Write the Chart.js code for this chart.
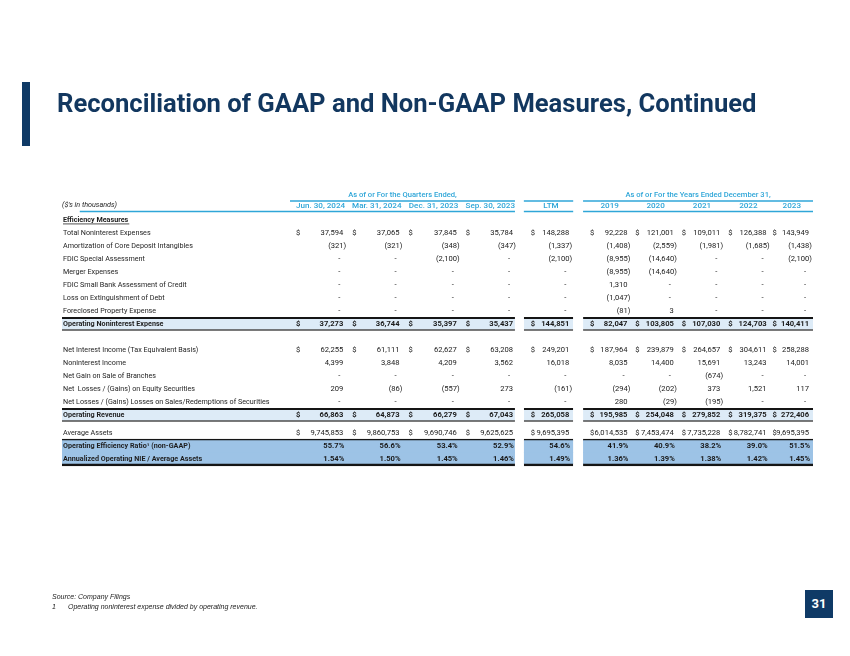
<!DOCTYPE html>
<html><head><meta charset="utf-8">
<script src="https://cdn.jsdelivr.net/npm/chart.js@4/dist/chart.umd.min.js"></script>
<style>
html,body{margin:0;padding:0;background:#fff;}
#page{position:relative;width:850px;height:656px;overflow:hidden;background:#fff;}
#c{position:absolute;left:0;top:0;}
#bar{position:absolute;left:22px;top:82px;width:8px;height:64px;background:#0f3a66;}
#title{position:absolute;left:57px;top:88px;font:700 25.6px Roboto,sans-serif;color:#12375f;white-space:nowrap;}
#src{position:absolute;left:52px;top:592px;font:italic 7px "Liberation Sans",Arial,sans-serif;color:#222;line-height:10px;}
#src span{display:inline-block;width:16px;}
#pg{position:absolute;left:805px;top:590px;width:28px;height:28px;background:#0f3a66;color:#fff;font:700 13px Roboto,sans-serif;text-align:center;line-height:28px;}
</style></head>
<body><div id="page">
<canvas id="c" width="850" height="656"></canvas>
<div id="bar"></div>
<div id="title">Reconciliation of GAAP and Non-GAAP Measures, Continued</div>
<div id="src">Source: Company Filings<br><span>1</span>Operating noninterest expense divided by operating revenue.</div>
<div id="pg">31</div>
</div>
<script>
// ---------- DATA ----------
const groupHeaders = ['As of or For the Quarters Ended,', 'As of or For the Years Ended December 31,'];
const unitsLabel = "($'s in thousands)";
const columnHeaders = ['Jun. 30, 2024','Mar. 31, 2024','Dec. 31, 2023','Sep. 30, 2023','LTM','2019','2020','2021','2022','2023'];
const rowLabels = [
  'Efficiency Measures',
  'Total Noninterest Expenses',
  'Amortization of Core Deposit Intangibles',
  'FDIC Special Assessment',
  'Merger Expenses',
  'FDIC Small Bank Assessment of Credit',
  'Loss on Extinguishment of Debt',
  'Foreclosed Property Expense',
  'Operating Noninterest Expense',
  '',
  'Net Interest Income (Tax Equivalent Basis)',
  'Noninterest Income',
  'Net Gain on Sale of Branches',
  'Net  Losses / (Gains) on Equity Securities',
  'Net Losses / (Gains) Losses on Sales/Redemptions of Securities',
  'Operating Revenue',
  '',
  'Average Assets',
  'Operating Efficiency Ratio\u00b9 (non-GAAP)',
  'Annualized Operating NIE / Average Assets'
];
const totalNonintExp = [37594, 37065, 37845, 35784, 148288, 92228, 121001, 109011, 126388, 143949];
const amortCDI       = [-321, -321, -348, -347, -1337, -1408, -2559, -1981, -1685, -1438];
const fdicSpecial    = [null, null, -2100, null, -2100, -8955, -14640, null, null, -2100];
const mergerExp      = [null, null, null, null, null, -8955, -14640, null, null, null];
const fdicSmallBank  = [null, null, null, null, null, 1310, null, null, null, null];
const lossExtDebt    = [null, null, null, null, null, -1047, null, null, null, null];
const foreclosedExp  = [null, null, null, null, null, -81, 3, null, null, null];
const opNonintExp    = [37273, 36744, 35397, 35437, 144851, 82047, 103805, 107030, 124703, 140411];
const netIntIncome   = [62255, 61111, 62627, 63208, 249201, 187964, 239879, 264657, 304611, 258288];
const nonintIncome   = [4399, 3848, 4209, 3562, 16018, 8035, 14400, 15691, 13243, 14001];
const gainBranches   = [null, null, null, null, null, null, null, -674, null, null];
const lossEquity     = [209, -86, -557, 273, -161, -294, -202, 373, 1521, 117];
const lossSales      = [null, null, null, null, null, 280, -29, -195, null, null];
const opRevenue      = [66863, 64873, 66279, 67043, 265058, 195985, 254048, 279852, 319375, 272406];
const avgAssets      = [9745853, 9860753, 9690746, 9625625, 9695395, 6014535, 7453474, 7735228, 8782741, 9695395];
const effRatio       = [55.7, 56.6, 53.4, 52.9, 54.6, 41.9, 40.9, 38.2, 39.0, 51.5];
const nieToAssets    = [1.54, 1.50, 1.45, 1.46, 1.49, 1.36, 1.39, 1.38, 1.42, 1.45];
const rowValues = [null, totalNonintExp, amortCDI, fdicSpecial, mergerExp, fdicSmallBank, lossExtDebt, foreclosedExp,
  opNonintExp, null, netIntIncome, nonintIncome, gainBranches, lossEquity, lossSales, opRevenue, null, avgAssets, effRatio, nieToAssets];

// ---------- STYLE / LAYOUT ----------
const boldRows = new Set([0, 8, 15, 18, 19]);
const dollarRows = new Set([1, 8, 10, 15, 17]);
const pctDecimals = {18: 1, 19: 2};
const lightRows = [8, 15];
const ratioRows = [18, 19];
const spacerHeights = {9: 1, 16: 0.4};
const L = {
  areaLeft: 52, areaRight: 813, areaTop: 206, areaBottom: 473,
  cols: [[289,337],[346,394],[403,452],[461,509],[527,566],[587,625],[633,672],[680,719],[727,766],[772,809]],
  blocks: [[52,511],[520,570],[580,813]],
  topLines: [[283,511],[520,570],[580,813]],
  bottomLines: [[70,511],[520,570],[580,813]],
  groupSpans: [[283,511],[580,813]]
};
const CYAN = '#2fa6d8', LIGHT = '#ddebf7', MID = '#9dc3e6', DARK = '#151515';
const FONT = 'Roboto, sans-serif';
const FS = 7.6;      // values
const FL = 7.2;      // row labels
const FH = 8.1;      // column headers

// row positions on y scale (row units)
const rowPos = []; let p = 0;
rowLabels.forEach((l, i) => {
  if (i in spacerHeights) { rowPos.push(null); p += spacerHeights[i]; }
  else { rowPos.push(p); p += 1; }
});
const yMin = -0.5, yMax = p - 0.5;
const rowPx = (L.areaBottom - L.areaTop) / (yMax - yMin);

function fmt(v, i) {
  if (v === null) return '-';
  if (i in pctDecimals) return v.toFixed(pctDecimals[i]) + '%';
  const s = Math.abs(v).toLocaleString('en-US');
  return v < 0 ? '(' + s + ')' : s;
}

function bars(rows) {
  const d = [];
  rows.forEach(r => L.blocks.forEach(b => d.push({y: rowPos[r], x: [b[0], b[1]], r})));
  return d;
}

const tablePlugin = {
  id: 'table',
  afterDraw(chart) {
    const ctx = chart.ctx, xs = chart.scales.x, ys = chart.scales.y;
    ctx.save();
    // header lines
    ctx.strokeStyle = CYAN; ctx.lineWidth = 1.5;
    const yTopLine = ys.getPixelForValue(-1.45), yBotLine = ys.getPixelForValue(-0.65);
    L.topLines.forEach(s => { ctx.beginPath(); ctx.moveTo(xs.getPixelForValue(s[0]), yTopLine); ctx.lineTo(xs.getPixelForValue(s[1]), yTopLine); ctx.stroke(); });
    L.bottomLines.forEach(s => { ctx.beginPath(); ctx.moveTo(xs.getPixelForValue(s[0]), yBotLine); ctx.lineTo(xs.getPixelForValue(s[1]), yBotLine); ctx.stroke(); });
    // group headers
    ctx.fillStyle = CYAN; ctx.textBaseline = 'middle'; ctx.textAlign = 'center';
    ctx.font = '500 ' + FS + 'px ' + FONT;
    const yGroup = ys.getPixelForValue(-1.9);
    groupHeaders.forEach((g, k) => {
      const s = L.groupSpans[k];
      ctx.fillText(g, xs.getPixelForValue((s[0] + s[1]) / 2), yGroup);
    });
    // column headers
    ctx.font = '500 ' + FH + 'px ' + FONT;
    const yHead = ys.getPixelForValue(-1.1);
    columnHeaders.forEach((h, c) => {
      const col = L.cols[c];
      ctx.fillText(h, xs.getPixelForValue((col[0] + col[1]) / 2 + 1), yHead);
    });
    // units label
    ctx.fillStyle = '#222'; ctx.textAlign = 'left';
    ctx.font = 'italic ' + FL + 'px ' + FONT;
    ctx.fillText(unitsLabel, chart.chartArea.left, yHead);
    // underline for section header
    ctx.font = '700 ' + FL + 'px ' + FONT;
    const w = ctx.measureText(rowLabels[0]).width;
    const y0 = ys.getPixelForValue(rowPos[0]) + 4;
    ctx.strokeStyle = '#222'; ctx.lineWidth = 0.8;
    ctx.beginPath(); ctx.moveTo(chart.chartArea.left + 1, y0); ctx.lineTo(chart.chartArea.left + 2 + w, y0); ctx.stroke();
    // cell values
    rowValues.forEach((vals, i) => {
      if (!vals) return;
      const y = ys.getPixelForValue(rowPos[i]);
      ctx.font = (boldRows.has(i) ? '700 ' : '400 ') + FS + 'px ' + FONT;
      ctx.fillStyle = '#1a1a1a';
      vals.forEach((v, c) => {
        const col = L.cols[c];
        if (dollarRows.has(i)) { ctx.textAlign = 'left'; ctx.fillText('$', xs.getPixelForValue(col[0]), y); }
        ctx.textAlign = 'right';
        let xr = col[1];
        if (v === null) xr -= 3; else if (v < 0) xr += 3; else if (i in pctDecimals) xr += 1;
        ctx.fillText(fmt(v, i), xs.getPixelForValue(xr), y);
      });
    });
    ctx.restore();
  }
};

function draw() {
  new Chart(document.getElementById('c'), {
    type: 'bar',
    data: {
      datasets: [
        { data: bars(lightRows), backgroundColor: LIGHT, borderColor: DARK,
          borderWidth: {top: 2, bottom: 1.5, left: 0, right: 0}, borderSkipped: false,
          barThickness: rowPx, grouped: false, inflateAmount: 0 },
        { data: bars(ratioRows), backgroundColor: MID, borderColor: DARK,
          borderWidth: (ctx) => ctx.raw && ctx.raw.r === ratioRows[0] ? {top: 1.5, bottom: 0, left: 0, right: 0} : {top: 0, bottom: 2.5, left: 0, right: 0},
          borderSkipped: false, barThickness: rowPx, grouped: false, inflateAmount: 0.4 }
      ]
    },
    options: {
      indexAxis: 'y', responsive: false, animation: false, devicePixelRatio: 1,
      layout: { padding: { left: L.areaLeft, right: 850 - L.areaRight, top: L.areaTop, bottom: 656 - L.areaBottom } },
      plugins: { legend: { display: false }, tooltip: { enabled: false }, title: { display: false } },
      scales: {
        x: { type: 'linear', min: L.areaLeft, max: L.areaRight, display: false },
        y: {
          type: 'linear', reverse: true, min: yMin, max: yMax, bounds: 'data', z: 1,
          grid: { display: false }, border: { display: false },
          afterBuildTicks: (s) => { s.ticks = rowPos.filter(v => v !== null).map(v => ({ value: v })); },
          ticks: {
            z: 1, mirror: true, padding: 1, autoSkip: false, crossAlign: 'near',
            callback: (v) => { const i = rowPos.indexOf(v); return i >= 0 ? rowLabels[i] : ''; },
            font: (ctx) => { const i = rowPos.indexOf(ctx.tick ? ctx.tick.value : -99); return { family: FONT, size: FL, weight: boldRows.has(i) ? '700' : '400' }; },
            color: '#1e1e1e'
          }
        }
      }
    },
    plugins: [tablePlugin]
  });
}
if (document.fonts && document.fonts.load) {
  Promise.all([document.fonts.load('400 8px Roboto'), document.fonts.load('700 8px Roboto'), document.fonts.load('italic 8px Roboto'), document.fonts.load('500 8px Roboto')]).then(draw, draw);
} else draw();
</script>
</body></html>
